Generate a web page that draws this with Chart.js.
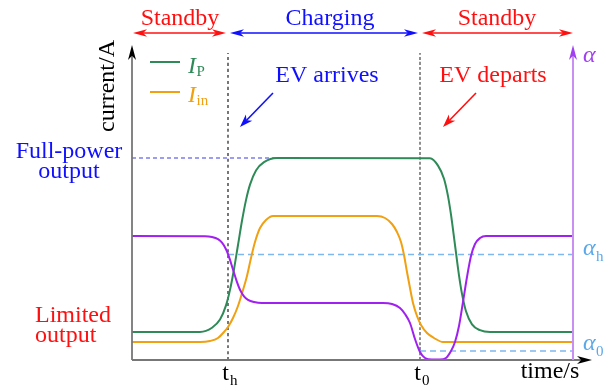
<!DOCTYPE html>
<html>
<head>
<meta charset="utf-8">
<script src="https://cdn.jsdelivr.net/npm/chart.js@4.4.1/dist/chart.umd.min.js"></script>
<style>
body { margin: 0; background: #fff; }
#wrap { width: 613px; height: 392px; }
</style>
</head>
<body>
<div id="wrap"><canvas id="myChart"></canvas></div>
<script>
// values: time in s, current in A (arbitrary units)
const ipTime = [0, 6.8, 8.0, 8.8, 9.4, 9.8, 10.2, 10.6, 11.0, 11.4, 11.8, 12.4, 13.2, 14.5,
    29.8, 30.6, 31.2, 31.6, 31.9, 32.3, 32.7, 33.0, 33.4, 34.0, 34.8, 35.8, 44.1];
const ipCurrent = [2.8, 2.8, 3.22, 4.04, 5.46, 7.01, 9.08, 11.5, 13.92, 15.99, 17.54, 18.96, 19.78, 20.2,
    20.18, 19.44, 18.13, 16.39, 14.53, 11.5, 8.47, 6.61, 4.87, 3.56, 2.98, 2.8, 2.8];

const inTime = [0, 6.8, 7.8, 8.6, 9.2, 9.6, 10.1, 10.6, 11.1, 11.5, 11.9, 12.3, 12.8, 13.4, 14.1,
    24.5, 25.3, 26.0, 26.5, 26.9, 27.2, 27.5, 27.8, 28.1, 28.5, 28.9, 29.5, 30.2, 31.1, 44.1];
const inCurrent = [1.8, 1.8, 1.9, 2.2, 2.8, 3.3, 4.2, 5.4, 7.0, 8.4, 10.2, 11.8, 13.2, 14.0, 14.4,
    14.4, 14.2, 13.6, 12.8, 11.8, 10.5, 8.8, 7.2, 5.7, 4.4, 3.5, 2.7, 2.2, 1.8, 1.8];

const alphaTime = [0, 7.3, 8.0, 8.6, 9.0, 9.4, 9.7, 10.1, 10.5, 10.8, 11.2, 11.6, 12.2, 13.0,
    25.1, 26.0, 26.8, 27.3, 27.8, 28.3, 28.8, 29.3, 30.0, 30.8, 31.4, 31.9, 32.3, 32.7, 33.1,
    33.5, 33.9, 34.3, 34.8, 35.4, 44.1];
const alphaValue = [12.4, 12.38, 12.3, 12.08, 11.73, 11.07, 10.32, 9.05, 7.78, 7.03, 6.37, 6.02, 5.8, 5.7,
    5.7, 5.6, 5.2, 4.6, 3.7, 2.1, 0.8, 0.2, 0.05, 0.05, 0.2, 0.9, 1.8, 3.4, 5.8,
    8.3, 10.4, 11.6, 12.2, 12.4, 12.4];

const markTimes = [9.6, 28.8];       // t_h, t_0
const markLabels = ['t', 't'];
const markSubs = ['h', '0'];
const fullPower = 20.2;
const fullPowerEnd = 14.5;
const alphaH = 10.55;
const alpha0 = 0.9;

const green = '#2e8b57', orange = '#f0a010', purple = '#a020f0', skyblue = '#7db9ee';
const serif = '"Liberation Serif", "Times New Roman", serif';

function pts(xs, ys) {
    return xs.map((x, i) => ({ x: x, y: ys[i] }));
}

function head(ctx, x, y, ang, len, w, col) {
    ctx.save();
    ctx.translate(x, y);
    ctx.rotate(ang);
    ctx.beginPath();
    ctx.moveTo(0, 0);
    ctx.lineTo(-len, -w);
    ctx.lineTo(-len * 0.72, 0);
    ctx.lineTo(-len, w);
    ctx.closePath();
    ctx.fillStyle = col;
    ctx.fill();
    ctx.restore();
}

function arrow(ctx, x1, y1, x2, y2, col, both, len, w) {
    const ang = Math.atan2(y2 - y1, x2 - x1);
    const c = Math.cos(ang), s = Math.sin(ang);
    const k = len * 0.7;
    ctx.strokeStyle = col;
    ctx.lineWidth = 1.6;
    ctx.beginPath();
    ctx.moveTo(both ? x1 + c * k : x1, both ? y1 + s * k : y1);
    ctx.lineTo(x2 - c * k, y2 - s * k);
    ctx.stroke();
    head(ctx, x2, y2, ang, len, w, col);
    if (both) head(ctx, x1, y1, ang + Math.PI, len, w, col);
}

function text(ctx, txt, x, y, col, font, align) {
    ctx.font = font;
    ctx.fillStyle = col;
    ctx.textAlign = align || 'center';
    ctx.textBaseline = 'alphabetic';
    ctx.fillText(txt, x, y);
}

function subText(ctx, main, sub, x, y, col, mainFont, subFont, dy) {
    text(ctx, main, x, y, col, mainFont, 'left');
    const w = ctx.measureText(main).width;
    text(ctx, sub, x + w + 0.5, y + dy, col, subFont, 'left');
}

const sketch = {
    id: 'sketch',
    afterDatasetsDraw(chart) {
        const ctx = chart.ctx, a = chart.chartArea, xs = chart.scales.x;
        const f24 = '24px ' + serif, f15 = '15px ' + serif, i24 = 'italic 24px ' + serif;
        const th = xs.getPixelForValue(markTimes[0]), t0 = xs.getPixelForValue(markTimes[1]);
        ctx.save();

        // axes
        ctx.lineWidth = 1.8;
        ctx.strokeStyle = '#777';
        ctx.beginPath();
        ctx.moveTo(a.left, a.bottom);
        ctx.lineTo(a.left, a.top + 10);
        ctx.stroke();
        head(ctx, a.left, a.top, -Math.PI / 2, 15, 4, '#000');
        ctx.beginPath();
        ctx.moveTo(a.left, a.bottom);
        ctx.lineTo(a.right + 10, a.bottom);
        ctx.stroke();
        head(ctx, a.right + 19, a.bottom, 0, 15, 4, '#000');

        ctx.strokeStyle = '#c98ff2';
        ctx.lineWidth = 2;
        ctx.beginPath();
        ctx.moveTo(a.right, a.bottom);
        ctx.lineTo(a.right, a.top + 10);
        ctx.stroke();
        head(ctx, a.right, a.top, -Math.PI / 2, 15, 4, '#a040f0');

        // phases
        arrow(ctx, a.left + 1, 33, th - 2, 33, '#ff1010', true, 14, 3.8);
        arrow(ctx, th + 2, 33, t0 - 2, 33, '#1010ff', true, 14, 3.8);
        arrow(ctx, t0 + 2, 33, a.right, 33, '#ff1010', true, 14, 3.8);
        text(ctx, 'Standby', 180, 25, '#ff1010', f24);
        text(ctx, 'Charging', 330, 25, '#1010ff', f24);
        text(ctx, 'Standby', 497, 25, '#ff1010', f24);

        // events
        text(ctx, 'EV arrives', 327, 82, '#1010ff', f24);
        arrow(ctx, 273, 93, 240, 127, '#1010ff', false, 13, 4.5);
        text(ctx, 'EV departs', 493, 82, '#ff1010', f24);
        arrow(ctx, 476, 93, 443, 127, '#ff1010', false, 13, 4.5);

        // legend
        ctx.lineWidth = 2;
        ctx.strokeStyle = green;
        ctx.beginPath(); ctx.moveTo(150, 62); ctx.lineTo(180, 62); ctx.stroke();
        ctx.strokeStyle = orange;
        ctx.beginPath(); ctx.moveTo(150, 92); ctx.lineTo(180, 92); ctx.stroke();
        subText(ctx, 'I', 'P', 188, 73, green, i24, f15, 3);
        subText(ctx, 'I', 'in', 188, 102, orange, i24, f15, 3);

        // y axis labels
        ctx.save();
        ctx.translate(114, 86);
        ctx.rotate(-Math.PI / 2);
        text(ctx, 'current/A', 0, 0, '#000', f24);
        ctx.restore();
        text(ctx, 'Full-power', 69, 158, '#1010ff', f24);
        text(ctx, 'output', 69, 178, '#1010ff', f24);
        text(ctx, 'Limited', 35, 322, '#ff1010', f24, 'left');
        text(ctx, 'output', 35, 342, '#ff1010', f24, 'left');

        // x axis labels
        markTimes.forEach((t, i) => {
            const px = xs.getPixelForValue(t);
            text(ctx, markLabels[i], px + 1, 380, '#000', f24, 'right');
            text(ctx, markSubs[i], px + 2, 385, '#000', f15, 'left');
        });
        text(ctx, 'time/s', 550, 378, '#000', f24);

        // alpha labels
        text(ctx, 'α', 583, 62, '#a040f0', i24, 'left');
        subText(ctx, 'α', 'h', 583, 255, '#5aa8ea', i24, f15, 6);
        subText(ctx, 'α', '0', 583, 350, '#5aa8ea', i24, f15, 6);
        ctx.restore();
    }
};

new Chart(document.getElementById('myChart'), {
    type: 'line',
    data: {
        datasets: [
            { label: 'I_P', data: pts(ipTime, ipCurrent), borderColor: green, borderWidth: 2, order: 1 },
            { label: 'I_in', data: pts(inTime, inCurrent), borderColor: orange, borderWidth: 2, order: 2 },
            { label: 'alpha', data: pts(alphaTime, alphaValue), borderColor: purple, borderWidth: 2, order: 0, yAxisID: 'y1' },
            { label: 'full power', data: pts([0, fullPowerEnd], [fullPower, fullPower]), borderColor: '#3a3ae6', borderWidth: 1.2, borderDash: [4, 3], order: 5 },
            { label: 'alpha_h', data: pts([markTimes[0], 44.1], [alphaH, alphaH]), borderColor: skyblue, borderWidth: 1.3, borderDash: [6, 4], order: 6, yAxisID: 'y1' },
            { label: 'alpha_0', data: pts([markTimes[1], 44.1], [alpha0, alpha0]), borderColor: skyblue, borderWidth: 1.3, borderDash: [6, 4], order: 6, yAxisID: 'y1' },
            { label: 't_h', data: pts([markTimes[0], markTimes[0]], [0, 30.7]), borderColor: '#555', borderWidth: 1.6, borderDash: [3, 3], order: 7 },
            { label: 't_0', data: pts([markTimes[1], markTimes[1]], [0, 30.7]), borderColor: '#333', borderWidth: 1.1, borderDash: [3, 2], order: 7 }
        ]
    },
    options: {
        responsive: true,
        maintainAspectRatio: false,
        animation: false,
        layout: { padding: { left: 132, right: 40, top: 45, bottom: 32 } },
        elements: {
            point: { radius: 0 },
            line: { cubicInterpolationMode: 'monotone', fill: false }
        },
        datasets: { line: { clip: false } },
        scales: {
            x: { type: 'linear', min: 0, max: 44.1, display: false },
            y: { min: 0, max: 31.5, display: false },
            y1: { min: 0, max: 31.5, display: false, position: 'right' }
        },
        plugins: {
            legend: { display: false },
            tooltip: { enabled: false }
        }
    },
    plugins: [sketch]
});
</script>
</body>
</html>
